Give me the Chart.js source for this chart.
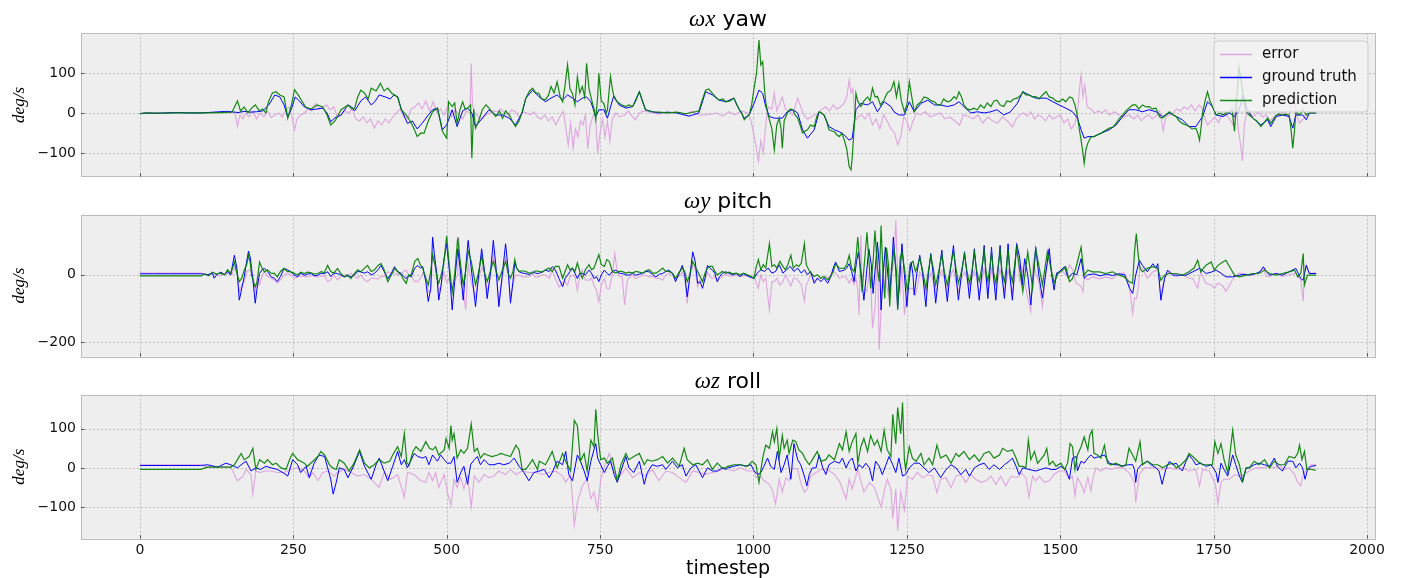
<!DOCTYPE html>
<html>
<head>
<meta charset="utf-8">
<script src="https://cdn.jsdelivr.net/npm/chart.js@4.4.0/dist/chart.umd.min.js"></script>
<style>
  html, body { margin: 0; padding: 0; background: #fff; }
  #wrap { position: relative; width: 1402px; height: 578px; overflow: hidden; }
  canvas { position: absolute; left: 0; }
</style>
</head>
<body>
<div id="wrap">
  <canvas id="c-yaw"   width="1402" height="190" style="top:0px"></canvas>
  <canvas id="c-pitch" width="1402" height="180" style="top:190px"></canvas>
  <canvas id="c-roll"  width="1402" height="208" style="top:370px"></canvas>
</div>
<script>
// x axis (timestep)
const xTicks = [0, 250, 500, 750, 1000, 1250, 1500, 1750, 2000];

// ---- ωx yaw : [timestep, deg/s] ----
const yawError = [[0,0],[20,1],[40,0],[60,1],[80,0],[100,1],[120,0],[140,1],[155,0],[159,-34],[163,-5],[168,-15],[172,0],[178,-10],[184,5],[190,-15],[196,0],[202,-10],[208,5],[214,-12],[220,-5],[226,0],[232,-10],[238,8],[243,15],[248,-10],[252,-42],[256,-15],[262,-5],[268,0],[274,10],[280,5],[286,24],[292,10],[298,15],[304,20],[310,8],[316,15],[322,-10],[328,-5],[334,5],[340,0],[346,10],[352,-15],[358,-20],[364,-10],[370,-25],[376,-15],[382,-38],[388,-20],[394,-30],[400,-15],[406,-25],[412,-10],[418,0],[424,10],[430,-10],[436,-15],[442,10],[448,15],[454,25],[460,10],[466,30],[472,5],[478,28],[484,0],[490,10],[496,-5],[502,20],[508,-10],[514,8],[520,-5],[526,-15],[532,5],[538,0],[540,124],[542,20],[546,0],[552,-10],[558,-15],[564,-5],[570,0],[576,5],[582,3],[588,10],[594,0],[600,-5],[606,8],[612,3],[618,-10],[624,3],[630,0],[636,-5],[642,3],[648,-10],[654,-15],[660,-5],[666,-20],[672,-10],[678,-30],[684,-10],[690,5],[694,-35],[698,-80],[702,-25],[706,-88],[710,-40],[714,-60],[718,-20],[722,-30],[726,-5],[730,-90],[734,-30],[738,-10],[742,8],[746,-100],[750,-50],[754,-15],[758,-60],[762,-20],[766,-70],[770,-15],[776,0],[782,-10],[790,-5],[796,5],[802,-8],[808,-17],[814,0],[820,5],[828,3],[836,0],[844,-3],[852,0],[860,-2],[870,1],[880,0],[890,-3],[900,5],[910,-5],[920,-5],[930,-3],[940,0],[950,-8],[960,3],[970,-5],[980,5],[990,0],[996,-20],[1000,-50],[1004,-80],[1008,-121],[1012,-70],[1016,-100],[1020,-30],[1024,15],[1030,10],[1034,49],[1038,5],[1042,20],[1047,40],[1052,10],[1058,5],[1064,-5],[1072,37],[1076,20],[1082,-5],[1088,-15],[1094,-10],[1100,-5],[1106,0],[1112,10],[1118,15],[1124,5],[1130,20],[1136,10],[1142,15],[1148,25],[1152,40],[1156,82],[1159,50],[1162,60],[1166,-20],[1170,-10],[1176,-5],[1182,-15],[1188,0],[1194,-30],[1200,-15],[1206,-40],[1212,-5],[1218,-20],[1224,-40],[1230,-50],[1235,-80],[1240,-60],[1245,-10],[1250,-20],[1255,-45],[1260,-20],[1266,0],[1272,-5],[1280,3],[1288,-10],[1296,-5],[1304,0],[1312,-15],[1320,-10],[1328,-20],[1336,-30],[1342,-5],[1350,-8],[1358,-15],[1366,-5],[1374,-25],[1382,-10],[1390,-20],[1398,-25],[1406,-10],[1414,-20],[1422,-35],[1428,-15],[1434,-5],[1440,0],[1446,-8],[1452,3],[1458,-15],[1464,-5],[1470,-10],[1476,-20],[1482,-5],[1488,-15],[1494,-10],[1500,-5],[1506,-25],[1512,-15],[1518,-40],[1524,-25],[1528,0],[1532,70],[1534,95],[1537,40],[1540,70],[1544,15],[1550,10],[1556,0],[1562,5],[1568,0],[1574,8],[1580,-5],[1588,3],[1596,-5],[1604,-10],[1612,-5],[1620,-15],[1626,-5],[1632,-20],[1638,-10],[1644,-5],[1650,-15],[1656,-8],[1662,5],[1668,-45],[1672,-10],[1678,-5],[1684,0],[1690,10],[1696,5],[1702,15],[1708,10],[1714,20],[1720,5],[1726,20],[1730,15],[1736,-15],[1740,-30],[1746,-20],[1752,-10],[1758,-25],[1764,0],[1770,-5],[1776,-15],[1782,-30],[1786,40],[1790,-40],[1794,-80],[1797,-120],[1800,-30],[1804,0],[1810,-5],[1816,-8],[1822,3],[1830,-10],[1836,-5],[1842,-20],[1848,-10],[1854,-5],[1860,3],[1866,0],[1872,-10],[1878,30],[1882,20],[1886,-10],[1890,-25],[1896,-15],[1900,-5],[1906,0],[1917,0]];

const yawTruth = [[0,-2],[10,0],[20,-1],[40,0],[60,1],[80,0],[100,0],[120,2],[140,4],[150,3],[160,1],[170,4],[180,2],[190,3],[200,5],[210,20],[220,45],[228,40],[235,20],[241,-10],[247,10],[253,40],[260,30],[268,15],[279,8],[289,10],[298,12],[305,0],[311,-22],[318,-12],[328,-5],[339,20],[345,15],[350,5],[360,30],[368,40],[377,20],[383,28],[390,45],[400,40],[408,35],[414,45],[420,40],[426,10],[436,-26],[444,-20],[452,-40],[463,-20],[470,-5],[477,8],[485,12],[493,-42],[500,-30],[509,8],[517,-34],[526,5],[534,12],[541,0],[547,-34],[558,-13],[569,8],[580,-5],[591,-5],[602,-13],[612,-30],[623,0],[629,37],[640,57],[650,41],[661,28],[670,37],[680,45],[689,33],[697,45],[705,37],[713,28],[721,37],[728,40],[735,28],[743,-9],[748,8],[756,8],[762,-13],[767,15],[772,41],[781,20],[792,12],[803,16],[814,53],[824,8],[835,3],[846,0],[860,2],[875,0],[895,-8],[911,0],[922,53],[933,45],[944,32],[955,28],[968,37],[977,8],[985,-13],[993,-5],[1001,24],[1009,57],[1015,49],[1020,16],[1026,-9],[1034,-13],[1047,-13],[1055,3],[1064,8],[1072,0],[1080,-42],[1088,-63],[1099,-42],[1107,3],[1115,-5],[1123,-34],[1132,-42],[1140,-47],[1148,-55],[1156,-68],[1161,-63],[1167,8],[1175,24],[1186,20],[1194,28],[1202,3],[1213,28],[1224,16],[1229,3],[1237,-5],[1246,-5],[1254,28],[1262,3],[1273,24],[1284,32],[1295,20],[1305,20],[1316,16],[1327,20],[1335,28],[1343,16],[1354,0],[1365,3],[1376,0],[1387,3],[1397,8],[1408,-5],[1419,3],[1430,24],[1439,53],[1449,45],[1460,37],[1477,37],[1488,28],[1498,20],[1509,12],[1520,3],[1528,-13],[1534,-42],[1539,-63],[1545,-59],[1555,-59],[1566,-51],[1580,-42],[1591,-30],[1602,-9],[1612,8],[1623,8],[1634,3],[1645,8],[1656,3],[1667,-9],[1678,0],[1689,-9],[1699,-17],[1710,-34],[1721,-34],[1732,-9],[1740,28],[1748,16],[1754,-5],[1765,-9],[1776,0],[1784,-9],[1792,10],[1798,45],[1804,10],[1814,-13],[1827,-30],[1838,-17],[1843,-34],[1852,-9],[1862,-5],[1873,-9],[1879,-38],[1884,-5],[1895,-5],[1901,-17],[1906,0],[1917,0]];

const yawPred = [[0,-2],[10,0],[30,-1],[60,0],[100,0],[130,1],[150,2],[159,30],[164,5],[170,15],[176,0],[182,12],[188,20],[195,5],[200,10],[205,0],[210,30],[216,50],[222,53],[228,45],[235,40],[241,-13],[247,20],[252,58],[258,45],[264,30],[270,15],[279,10],[289,20],[298,15],[305,-5],[311,-30],[318,-20],[328,8],[339,20],[345,10],[350,12],[355,40],[360,57],[366,50],[372,35],[377,62],[385,55],[392,74],[398,55],[404,62],[410,50],[415,45],[420,40],[426,8],[436,-9],[444,-30],[452,-59],[458,-50],[463,-51],[470,-20],[477,3],[485,12],[493,-46],[500,-63],[503,28],[509,16],[513,25],[517,-26],[522,10],[526,28],[530,10],[534,12],[539,20],[541,-113],[544,10],[547,-38],[552,-20],[558,8],[564,20],[569,12],[575,0],[580,-9],[586,5],[591,-13],[596,5],[602,-5],[607,-20],[612,-34],[618,-20],[623,3],[629,37],[635,55],[640,62],[645,50],[650,49],[655,35],[661,33],[666,45],[670,66],[675,50],[680,78],[685,40],[689,28],[693,70],[697,120],[701,60],[705,49],[709,20],[713,90],[717,50],[721,66],[725,40],[728,124],[732,60],[735,41],[740,10],[743,-17],[746,40],[748,99],[752,30],[756,24],[760,0],[762,8],[765,60],[767,91],[770,60],[772,45],[777,30],[781,24],[786,20],[792,16],[797,20],[803,16],[808,30],[814,53],[819,30],[824,8],[830,5],[835,3],[846,2],[860,0],[875,2],[890,-2],[905,3],[911,5],[916,30],[922,57],[927,60],[933,49],[938,40],[944,32],[950,35],[955,28],[962,30],[968,37],[973,20],[977,8],[981,0],[985,-17],[989,-10],[993,-5],[997,20],[1001,62],[1005,100],[1009,182],[1012,120],[1015,128],[1018,60],[1020,28],[1023,0],[1026,-17],[1030,-40],[1034,-92],[1038,-30],[1042,-13],[1045,-40],[1047,-88],[1050,-20],[1055,-1],[1060,10],[1064,8],[1068,-5],[1072,-13],[1076,-30],[1080,-50],[1084,-45],[1088,-42],[1093,-30],[1099,-34],[1103,-10],[1107,3],[1111,0],[1115,-5],[1119,-20],[1123,-42],[1128,-45],[1132,-47],[1136,-55],[1140,-59],[1144,-50],[1148,-68],[1152,-90],[1156,-134],[1159,-142],[1161,-110],[1164,-40],[1167,49],[1170,30],[1175,16],[1180,30],[1186,40],[1190,30],[1194,62],[1198,40],[1202,41],[1207,20],[1213,33],[1218,50],[1224,57],[1229,78],[1233,40],[1237,74],[1241,30],[1246,3],[1250,20],[1254,78],[1258,40],[1262,3],[1267,20],[1273,28],[1278,40],[1284,37],[1290,30],[1295,28],[1300,20],[1305,20],[1310,35],[1316,28],[1321,30],[1327,41],[1331,35],[1335,53],[1339,40],[1343,20],[1348,10],[1354,8],[1359,12],[1365,8],[1370,20],[1376,12],[1381,25],[1387,16],[1392,30],[1397,32],[1402,20],[1408,16],[1413,30],[1419,28],[1424,35],[1430,37],[1436,45],[1439,53],[1444,45],[1449,45],[1455,40],[1460,41],[1466,35],[1471,45],[1477,53],[1482,40],[1488,37],[1493,30],[1498,28],[1504,35],[1509,28],[1515,40],[1520,37],[1524,20],[1528,-9],[1531,-40],[1534,-68],[1537,-100],[1539,-126],[1542,-90],[1545,-75],[1550,-60],[1555,-59],[1560,-55],[1566,-51],[1572,-45],[1580,-38],[1586,-35],[1591,-26],[1596,-15],[1602,-5],[1607,5],[1612,12],[1618,20],[1623,20],[1628,10],[1634,20],[1640,15],[1645,16],[1650,10],[1656,12],[1662,-10],[1667,-13],[1672,-5],[1678,3],[1684,-5],[1689,-9],[1694,-20],[1699,-26],[1705,-30],[1710,-34],[1715,-40],[1721,-38],[1724,-50],[1727,-68],[1730,-30],[1732,0],[1736,30],[1740,53],[1744,30],[1748,16],[1754,-5],[1760,0],[1765,-5],[1770,0],[1776,0],[1780,10],[1784,-46],[1788,40],[1791,115],[1795,80],[1800,20],[1803,3],[1808,-5],[1814,-13],[1820,-20],[1827,-34],[1832,-25],[1838,-13],[1843,-26],[1848,-15],[1852,-5],[1857,-3],[1862,-5],[1867,-3],[1873,-5],[1876,-40],[1879,-88],[1882,-40],[1884,3],[1890,-5],[1895,8],[1901,-5],[1906,0],[1912,0],[1917,0]];

// ---- ωy pitch ----
const pitchError = [[0,5],[100,5],[110,0],[120,3],[130,-3],[140,5],[150,0],[154,20],[158,10],[162,-50],[166,-30],[170,-20],[174,10],[177,12],[180,15],[185,-10],[188,-50],[191,-20],[195,-30],[199,-5],[203,10],[208,-5],[214,-10],[219,-15],[224,-25],[229,-15],[235,0],[240,5],[246,0],[252,-10],[258,-5],[264,-3],[270,-6],[276,-4],[282,-2],[288,-6],[294,-5],[300,-2],[306,-20],[311,-15],[316,0],[322,-15],[327,-5],[333,0],[338,-3],[344,5],[350,-5],[355,-10],[360,0],[366,-15],[371,-20],[377,-10],[382,-10],[388,-13],[393,-5],[398,-5],[404,9],[410,5],[415,5],[420,0],[426,5],[430,10],[434,14],[438,-2],[442,-5],[448,-20],[453,-20],[457,-10],[461,5],[466,-10],[470,-49],[474,-50],[477,52],[481,30],[484,10],[487,-50],[491,-30],[495,10],[500,-23],[504,-10],[509,-54],[513,-20],[518,0],[520,112],[522,-20],[527,-45],[531,-104],[535,32],[540,-20],[547,-64],[551,-20],[557,22],[561,10],[566,-50],[571,-10],[576,62],[580,15],[585,-79],[590,-20],[596,52],[600,15],[604,-74],[608,-30],[611,-7],[614,0],[618,-1],[624,-7],[629,-6],[635,-5],[640,4],[645,-7],[650,-6],[656,1],[661,-1],[667,-10],[672,14],[677,-10],[683,-36],[689,-25],[693,-20],[697,-31],[701,-5],[705,-1],[709,-5],[713,-46],[717,-5],[721,14],[726,-15],[732,-16],[736,-10],[740,-31],[744,-45],[748,-80],[752,-30],[757,-11],[761,-40],[765,-41],[770,0],[774,63],[778,9],[782,-5],[786,-6],[790,-89],[794,-20],[797,-9],[803,0],[808,-11],[814,-6],[819,-1],[825,-2],[830,-6],[836,-5],[841,-11],[847,-10],[852,-16],[857,0],[862,4],[868,0],[873,-10],[878,-5],[884,8],[888,-10],[892,-85],[896,-10],[901,28],[905,15],[909,-35],[913,-15],[917,-20],[921,-15],[925,8],[929,-5],[933,-11],[937,-5],[941,-20],[945,-10],[949,-6],[955,4],[960,-3],[966,-3],[972,-1],[978,-5],[984,-2],[990,-3],[996,-3],[1001,0],[1004,-20],[1008,-40],[1012,0],[1016,-20],[1020,-10],[1026,-104],[1030,-20],[1034,-20],[1038,-10],[1043,-30],[1048,-20],[1052,0],[1056,-15],[1061,-33],[1065,-10],[1070,-10],[1074,-20],[1078,-30],[1083,-77],[1086,-30],[1090,-15],[1094,5],[1099,-20],[1104,-10],[1110,-10],[1115,-5],[1121,-10],[1126,0],[1130,10],[1134,5],[1140,-10],[1148,-5],[1152,-10],[1156,-25],[1160,-10],[1164,-29],[1167,-10],[1170,-44],[1172,-119],[1175,117],[1177,-25],[1181,-40],[1185,-49],[1189,10],[1191,-15],[1194,-158],[1198,-101],[1202,77],[1205,-222],[1208,-100],[1211,10],[1214,40],[1217,-30],[1220,-60],[1222,20],[1226,10],[1229,35],[1232,161],[1235,5],[1239,-50],[1242,25],[1246,-119],[1251,-44],[1255,-40],[1260,-40],[1264,-60],[1268,-30],[1271,8],[1276,-10],[1281,-54],[1285,-10],[1289,8],[1293,-20],[1297,-54],[1302,-10],[1307,13],[1311,-10],[1316,-49],[1320,-10],[1326,17],[1330,-20],[1334,-50],[1339,-10],[1344,8],[1348,-10],[1352,-45],[1356,-10],[1360,12],[1364,-10],[1368,-55],[1372,-20],[1376,17],[1379,-10],[1382,-50],[1385,-20],[1388,17],[1391,-10],[1395,-50],[1398,-15],[1402,17],[1405,-10],[1409,-50],[1412,-20],[1415,17],[1418,-10],[1422,-55],[1425,-20],[1429,97],[1434,-18],[1438,20],[1442,-20],[1447,-68],[1452,-109],[1456,40],[1460,5],[1465,-20],[1471,-94],[1476,0],[1482,77],[1486,10],[1490,-20],[1494,0],[1498,5],[1504,10],[1509,0],[1515,30],[1520,16],[1526,-24],[1534,-34],[1537,-50],[1539,-9],[1545,-14],[1553,-6],[1564,-12],[1574,-6],[1585,-11],[1596,4],[1604,6],[1612,-20],[1618,-114],[1621,-69],[1624,-70],[1627,-40],[1630,24],[1634,19],[1642,-10],[1651,9],[1659,14],[1664,-59],[1670,-10],[1678,10],[1689,-5],[1699,0],[1710,-10],[1716,-11],[1724,-40],[1729,10],[1737,-24],[1746,-30],[1751,-40],[1757,-24],[1765,-33],[1770,-49],[1776,-30],[1784,-5],[1792,5],[1803,0],[1814,0],[1824,6],[1831,20],[1836,-4],[1841,-5],[1852,5],[1862,-5],[1873,0],[1884,5],[1892,-15],[1896,-79],[1898,10],[1901,29],[1906,5],[1917,5]];

const pitchTruth = [[0,3],[20,3],[50,3],[80,3],[100,3],[110,0],[118,5],[121,-10],[126,2],[132,8],[138,0],[143,10],[148,0],[154,58],[158,20],[162,-75],[166,-40],[170,-6],[174,40],[177,70],[180,50],[182,19],[185,-30],[188,-84],[191,-40],[195,4],[199,15],[203,19],[208,10],[214,-6],[219,-10],[224,-20],[229,-5],[235,19],[240,15],[246,9],[251,0],[257,-6],[262,5],[268,-1],[273,2],[279,4],[284,-3],[290,-1],[296,5],[300,3],[306,9],[311,-5],[316,5],[322,4],[327,0],[333,-6],[338,-3],[344,-6],[350,0],[355,10],[360,9],[366,5],[371,9],[377,0],[382,4],[388,15],[393,28],[398,10],[404,-11],[410,5],[415,24],[420,10],[426,4],[430,-5],[434,-11],[438,-2],[442,-6],[448,20],[453,28],[457,20],[461,24],[466,-20],[470,-79],[474,-40],[477,112],[480,60],[484,0],[487,-75],[491,-30],[495,40],[500,92],[504,20],[509,-104],[513,-20],[518,77],[522,20],[527,-75],[531,20],[535,102],[540,20],[547,-94],[551,-20],[557,77],[561,20],[566,-70],[571,0],[576,102],[580,30],[585,-94],[590,-10],[596,92],[600,20],[604,-84],[608,-20],[611,38],[614,20],[618,9],[624,5],[629,4],[635,0],[640,9],[645,5],[650,4],[656,9],[661,14],[667,10],[672,24],[677,15],[683,-11],[689,-35],[693,-10],[697,-1],[701,10],[705,19],[709,5],[713,-11],[717,5],[721,4],[726,0],[732,14],[736,5],[740,-11],[744,-5],[748,-20],[752,0],[757,14],[761,5],[765,-1],[770,10],[776,14],[781,5],[786,4],[792,0],[797,-1],[803,5],[808,-1],[814,2],[819,4],[825,10],[830,9],[836,0],[841,-6],[847,2],[852,4],[857,10],[862,14],[868,5],[873,-20],[878,0],[884,28],[888,0],[892,-65],[896,-10],[901,68],[905,40],[909,-25],[913,-20],[917,-40],[921,-10],[925,28],[929,20],[933,14],[937,5],[941,-20],[945,-5],[949,4],[955,9],[960,5],[966,0],[972,4],[978,-5],[984,3],[990,-3],[996,-8],[1001,-10],[1006,5],[1012,15],[1018,10],[1024,20],[1030,5],[1036,10],[1042,30],[1048,5],[1054,15],[1060,25],[1066,10],[1072,20],[1078,5],[1083,15],[1088,0],[1093,10],[1099,-25],[1104,-10],[1110,-20],[1115,-10],[1121,-25],[1126,-5],[1130,20],[1134,38],[1140,10],[1148,14],[1152,20],[1156,33],[1160,10],[1164,-20],[1168,40],[1171,68],[1175,10],[1180,-75],[1184,0],[1188,77],[1192,30],[1195,-55],[1199,30],[1202,97],[1206,10],[1208,-104],[1212,20],[1215,82],[1219,0],[1222,-55],[1226,40],[1228,112],[1232,10],[1235,-99],[1239,0],[1242,92],[1246,0],[1250,-94],[1254,-10],[1257,38],[1260,0],[1262,-60],[1266,0],[1271,58],[1276,0],[1281,-94],[1285,0],[1289,63],[1293,0],[1297,-84],[1302,0],[1307,73],[1311,0],[1316,-79],[1320,0],[1326,87],[1330,0],[1334,-75],[1339,0],[1344,68],[1348,0],[1352,-70],[1356,0],[1360,77],[1364,0],[1368,-75],[1372,0],[1376,87],[1379,0],[1382,-70],[1385,0],[1388,82],[1391,0],[1395,-75],[1398,0],[1402,87],[1405,0],[1409,-70],[1412,0],[1415,92],[1418,0],[1422,-75],[1425,0],[1429,92],[1434,50],[1438,-30],[1442,48],[1447,0],[1452,-89],[1456,0],[1460,82],[1465,0],[1471,-69],[1476,0],[1482,77],[1486,0],[1490,-45],[1494,5],[1498,9],[1507,24],[1513,-10],[1520,5],[1527,0],[1534,48],[1539,-10],[1545,0],[1555,3],[1565,-3],[1575,2],[1585,-2],[1595,3],[1605,0],[1613,-40],[1618,-55],[1623,-1],[1629,43],[1634,28],[1642,9],[1651,33],[1656,20],[1659,33],[1664,-75],[1670,-11],[1675,14],[1683,-1],[1694,-1],[1705,-1],[1716,9],[1727,19],[1738,4],[1746,8],[1754,14],[1762,5],[1770,-6],[1781,-6],[1792,-1],[1800,2],[1808,-1],[1819,4],[1826,10],[1831,24],[1836,10],[1841,-1],[1852,4],[1862,-1],[1873,9],[1884,19],[1892,-11],[1896,-16],[1901,28],[1906,4],[1912,4],[1917,4]];

const pitchPred = [[0,-3],[50,-3],[100,-3],[106,3],[112,-3],[118,8],[125,2],[131,5],[138,0],[143,15],[148,5],[151,20],[154,38],[158,5],[162,-20],[166,-10],[170,14],[174,30],[177,58],[180,35],[182,-1],[185,-20],[188,-35],[191,-20],[195,38],[199,20],[203,9],[208,15],[214,4],[219,5],[224,-6],[229,10],[235,19],[240,10],[246,9],[251,5],[257,0],[262,8],[268,4],[273,8],[279,6],[284,2],[290,4],[296,10],[300,5],[306,28],[311,10],[316,5],[322,19],[327,5],[333,-6],[338,0],[344,-11],[350,5],[355,15],[360,9],[366,20],[371,28],[377,10],[382,14],[388,28],[393,33],[398,15],[404,-20],[410,0],[415,19],[420,10],[426,-1],[430,-15],[434,-25],[438,0],[442,-1],[448,40],[453,48],[457,30],[461,19],[466,-10],[470,-30],[474,10],[477,60],[481,30],[484,-10],[487,-25],[491,0],[495,30],[500,115],[504,30],[509,-50],[513,0],[518,110],[522,40],[527,-30],[531,10],[535,70],[540,40],[547,-30],[551,0],[557,55],[561,10],[566,-20],[571,10],[576,40],[580,15],[585,-15],[590,10],[596,40],[600,5],[604,-10],[608,10],[611,45],[614,20],[618,10],[624,12],[629,10],[635,5],[640,5],[645,12],[650,10],[656,8],[661,15],[667,20],[672,10],[677,25],[683,25],[689,-10],[693,10],[697,30],[701,15],[705,20],[709,10],[713,35],[717,10],[721,-10],[726,15],[732,30],[736,15],[740,20],[744,40],[748,60],[752,30],[757,25],[761,45],[765,40],[770,10],[776,5],[781,10],[786,10],[792,5],[797,8],[803,5],[808,10],[814,8],[819,5],[825,12],[830,15],[836,5],[841,5],[847,12],[852,20],[857,10],[862,10],[868,5],[873,-10],[878,5],[884,20],[888,10],[892,-20],[896,0],[901,40],[905,25],[909,10],[913,-5],[917,-20],[921,5],[925,20],[929,25],[933,25],[937,10],[941,0],[945,5],[949,10],[955,5],[960,8],[966,3],[972,5],[978,0],[984,5],[990,0],[996,-5],[1001,-10],[1004,20],[1008,45],[1012,15],[1016,30],[1020,20],[1026,92],[1030,25],[1034,30],[1038,20],[1043,40],[1048,25],[1052,15],[1056,30],[1061,58],[1065,20],[1070,30],[1074,25],[1078,35],[1083,92],[1086,30],[1090,15],[1094,5],[1099,-5],[1104,0],[1110,-10],[1115,-5],[1121,-15],[1126,-5],[1130,10],[1134,33],[1140,20],[1148,19],[1152,30],[1156,58],[1160,20],[1164,9],[1167,50],[1170,112],[1174,20],[1177,-50],[1181,40],[1185,126],[1189,20],[1191,-40],[1195,40],[1198,131],[1202,20],[1205,-20],[1208,146],[1211,10],[1214,-70],[1217,80],[1220,30],[1222,-94],[1226,30],[1229,77],[1233,10],[1235,-104],[1239,50],[1242,67],[1246,20],[1251,-50],[1255,30],[1260,40],[1264,10],[1268,30],[1271,50],[1276,10],[1281,-40],[1285,10],[1289,55],[1293,20],[1297,-30],[1302,10],[1307,60],[1311,10],[1316,-30],[1320,10],[1326,70],[1330,20],[1334,-25],[1339,10],[1344,60],[1348,10],[1352,-25],[1356,10],[1360,65],[1364,10],[1368,-20],[1372,20],[1376,70],[1379,10],[1382,-20],[1385,20],[1388,65],[1391,10],[1395,-25],[1398,15],[1402,70],[1405,10],[1409,-20],[1412,20],[1415,75],[1418,10],[1422,-20],[1425,20],[1429,80],[1439,-50],[1447,68],[1455,-40],[1460,77],[1471,-30],[1479,68],[1490,-25],[1496,4],[1504,14],[1509,24],[1515,-20],[1520,-11],[1526,24],[1534,82],[1539,-1],[1545,14],[1553,9],[1564,9],[1574,4],[1585,9],[1596,-1],[1604,-6],[1612,-20],[1618,-25],[1621,68],[1624,122],[1627,60],[1630,19],[1634,9],[1642,19],[1651,24],[1659,19],[1664,-16],[1670,-1],[1678,4],[1689,4],[1699,-1],[1710,9],[1718,20],[1724,43],[1729,9],[1737,28],[1746,38],[1751,14],[1757,28],[1765,38],[1770,43],[1776,24],[1784,-1],[1792,-6],[1803,-1],[1814,4],[1824,4],[1833,14],[1841,4],[1852,-1],[1862,4],[1873,9],[1882,14],[1887,-6],[1892,4],[1896,63],[1898,-30],[1903,-1],[1910,-1],[1917,-1]];

// ---- ωz roll ----
const rollError = [[0,8],[50,8],[99,8],[110,2],[140,3],[148,2],[154,-17],[159,-33],[168,-21],[173,-4],[181,-17],[184,-67],[189,-8],[197,-12],[203,-8],[214,-8],[224,-12],[235,-12],[246,-4],[257,0],[268,-8],[276,-25],[282,-12],[290,-33],[298,-12],[306,-8],[317,-21],[322,-12],[333,-4],[344,-12],[355,-21],[366,-17],[377,-29],[390,-50],[398,-12],[409,-29],[420,-17],[431,-75],[436,-12],[447,-17],[458,-33],[466,-37],[471,-12],[477,-33],[482,-12],[487,-50],[496,-17],[501,-62],[507,-96],[512,-29],[517,-50],[523,-25],[528,-54],[534,-21],[540,-100],[545,-21],[553,-37],[561,-17],[569,-25],[577,-21],[585,-8],[596,-17],[604,-4],[613,-17],[623,-8],[634,-12],[645,-12],[656,-17],[667,-12],[678,-8],[689,-21],[694,-37],[702,-17],[708,-146],[713,-88],[721,-46],[729,-29],[735,-79],[740,-62],[746,-108],[751,-29],[757,4],[765,37],[773,-12],[781,-25],[792,0],[803,-25],[814,-12],[824,-21],[835,-4],[846,-33],[857,-8],[868,-12],[879,-25],[890,-37],[901,-8],[911,-12],[922,-17],[933,-12],[944,-8],[955,0],[958,-4],[968,-8],[979,0],[990,-8],[1001,-8],[1004,-25],[1012,-21],[1017,-33],[1026,-42],[1031,-58],[1036,-92],[1042,-29],[1047,-62],[1053,-25],[1058,-33],[1064,0],[1072,-4],[1077,-37],[1083,-62],[1088,-54],[1093,-21],[1102,-12],[1110,-4],[1121,-4],[1132,-17],[1140,-33],[1151,-79],[1156,-29],[1161,-54],[1170,-4],[1175,-33],[1180,-62],[1189,-37],[1197,-50],[1208,-100],[1213,-62],[1218,-29],[1224,-54],[1227,-129],[1232,-54],[1235,-161],[1240,-62],[1246,-108],[1251,-21],[1259,-29],[1267,-12],[1276,-25],[1284,-17],[1292,-21],[1299,-63],[1305,-29],[1314,-25],[1322,-50],[1330,-21],[1338,-17],[1346,-37],[1354,-17],[1362,-29],[1371,-37],[1379,-33],[1387,-21],[1395,-42],[1403,-21],[1411,-46],[1420,-21],[1428,-25],[1433,-21],[1436,-12],[1444,-25],[1449,-75],[1455,-21],[1460,-33],[1466,-21],[1474,-37],[1482,-33],[1490,-17],[1498,-8],[1507,-8],[1515,-29],[1520,-21],[1524,-71],[1528,-25],[1534,-42],[1539,-63],[1545,-25],[1550,-58],[1553,-29],[1558,0],[1566,-8],[1574,0],[1583,-4],[1591,0],[1602,0],[1612,-12],[1621,-37],[1623,-88],[1629,-17],[1637,0],[1645,0],[1656,0],[1667,-4],[1678,0],[1689,-4],[1699,0],[1710,-8],[1721,-4],[1727,-46],[1732,-4],[1743,-8],[1753,-42],[1757,-92],[1762,-37],[1767,-29],[1776,-29],[1784,-17],[1792,-21],[1800,-17],[1808,-8],[1819,0],[1830,0],[1841,4],[1849,0],[1857,8],[1865,-4],[1873,0],[1882,-17],[1887,-37],[1892,-46],[1895,-21],[1901,-4],[1909,8],[1917,8]];

const rollTruth = [[0,6],[50,6],[99,6],[110,8],[127,2],[140,12],[148,8],[154,4],[159,0],[165,8],[173,17],[181,-8],[189,0],[197,-4],[205,4],[214,0],[224,-4],[233,-12],[241,-21],[249,21],[257,8],[262,-12],[271,4],[276,-25],[284,12],[292,33],[301,29],[306,0],[311,-29],[315,-67],[320,-37],[325,0],[333,-4],[339,-25],[347,0],[358,42],[366,4],[377,-29],[385,8],[390,25],[398,-8],[404,-33],[412,4],[420,42],[426,8],[431,21],[436,0],[447,37],[453,29],[461,25],[466,29],[471,8],[477,33],[485,17],[490,33],[496,21],[501,12],[507,12],[512,29],[517,-37],[523,-12],[528,4],[534,-42],[539,8],[545,21],[550,29],[555,8],[561,21],[569,8],[577,8],[585,12],[593,8],[602,12],[610,25],[618,4],[626,-12],[634,-33],[642,-12],[651,-8],[659,-4],[667,-25],[672,-12],[680,17],[689,8],[694,42],[699,-17],[705,-33],[713,33],[718,17],[724,-8],[729,-33],[735,17],[740,46],[743,62],[746,25],[751,8],[757,-12],[762,4],[767,17],[773,-17],[778,-37],[784,-8],[792,29],[797,0],[805,-12],[814,17],[822,-42],[827,-12],[835,8],[843,4],[852,8],[857,-4],[868,17],[876,0],[884,8],[890,-21],[898,0],[906,8],[917,-25],[925,0],[933,-8],[941,-8],[949,0],[955,-4],[958,0],[968,4],[979,8],[987,4],[996,8],[1001,-8],[1007,-17],[1012,-12],[1017,4],[1023,25],[1028,4],[1034,-4],[1039,42],[1045,-12],[1050,8],[1055,33],[1061,-29],[1066,62],[1072,21],[1077,8],[1083,-21],[1087,-46],[1091,-17],[1096,0],[1102,0],[1107,33],[1113,0],[1118,-17],[1123,8],[1132,17],[1140,12],[1145,25],[1151,0],[1156,17],[1161,25],[1167,-8],[1172,8],[1178,0],[1183,12],[1189,0],[1194,-33],[1199,17],[1205,4],[1210,-17],[1216,8],[1221,29],[1227,8],[1232,-12],[1237,25],[1243,-21],[1248,-17],[1254,0],[1262,12],[1270,12],[1278,0],[1286,-12],[1295,0],[1305,-25],[1314,-4],[1322,8],[1330,0],[1338,-17],[1346,-4],[1352,-21],[1360,0],[1368,8],[1376,12],[1384,-4],[1392,8],[1401,-4],[1409,8],[1417,17],[1422,25],[1428,4],[1433,-17],[1439,0],[1449,-4],[1460,-8],[1468,-4],[1477,0],[1485,-4],[1493,-4],[1501,4],[1509,-4],[1515,-29],[1520,25],[1526,29],[1528,-8],[1534,17],[1539,12],[1545,25],[1550,33],[1555,25],[1564,29],[1572,33],[1580,12],[1588,8],[1596,8],[1602,4],[1610,8],[1618,8],[1621,-4],[1623,-37],[1626,-4],[1632,8],[1637,12],[1642,17],[1648,8],[1656,0],[1661,-8],[1666,-42],[1672,-4],[1678,17],[1683,8],[1689,12],[1694,0],[1699,-8],[1705,17],[1710,33],[1716,21],[1721,8],[1729,12],[1738,4],[1746,8],[1754,-12],[1757,-37],[1762,12],[1767,-4],[1773,-21],[1781,33],[1786,8],[1792,-21],[1797,-37],[1803,0],[1808,0],[1816,8],[1824,12],[1833,8],[1841,4],[1849,25],[1854,4],[1862,-8],[1871,17],[1879,17],[1884,0],[1890,12],[1895,0],[1899,-29],[1903,-4],[1909,4],[1917,6]];

const rollPred = [[0,-4],[50,-4],[99,-4],[110,2],[140,2],[148,2],[154,8],[159,21],[165,37],[170,21],[178,29],[184,50],[189,-4],[195,21],[203,12],[208,21],[216,8],[222,12],[230,0],[238,-4],[245,25],[249,37],[257,21],[262,17],[268,12],[273,4],[282,17],[290,29],[295,42],[301,33],[309,8],[314,0],[320,-4],[325,21],[333,12],[341,-8],[349,12],[358,46],[366,12],[374,0],[382,8],[390,21],[398,12],[407,17],[412,33],[420,54],[426,29],[431,88],[435,12],[439,8],[445,42],[450,54],[458,42],[466,67],[472,50],[477,46],[482,54],[487,33],[496,46],[499,75],[504,50],[507,108],[509,71],[512,88],[517,25],[523,46],[528,37],[534,50],[540,112],[545,42],[550,50],[555,25],[561,37],[566,33],[574,29],[583,33],[588,37],[596,33],[604,29],[613,58],[618,46],[623,-4],[629,-4],[640,21],[648,-4],[651,17],[661,8],[672,42],[680,0],[689,37],[694,17],[702,-8],[708,121],[713,108],[718,17],[724,37],[729,-8],[735,71],[740,54],[743,150],[746,87],[751,21],[757,25],[762,12],[770,25],[778,-33],[784,8],[792,37],[797,21],[805,29],[814,37],[822,8],[827,21],[835,17],[843,21],[852,29],[860,12],[868,25],[879,4],[887,50],[892,21],[901,8],[909,12],[917,8],[925,21],[933,-4],[941,12],[949,0],[955,0],[958,4],[968,8],[979,8],[990,4],[998,17],[1004,8],[1009,-37],[1015,25],[1020,58],[1026,50],[1031,92],[1034,67],[1038,100],[1042,25],[1047,83],[1050,50],[1055,71],[1058,37],[1064,71],[1069,67],[1074,46],[1080,37],[1085,21],[1091,8],[1096,21],[1104,42],[1110,17],[1118,21],[1123,33],[1132,21],[1140,62],[1145,46],[1151,92],[1156,42],[1161,67],[1167,88],[1170,12],[1175,54],[1180,75],[1186,42],[1191,83],[1197,58],[1202,71],[1208,42],[1213,96],[1218,46],[1224,29],[1227,137],[1232,62],[1235,154],[1240,87],[1243,167],[1246,21],[1248,-4],[1254,54],[1259,25],[1265,17],[1273,37],[1278,8],[1286,25],[1292,8],[1299,58],[1305,25],[1314,33],[1322,12],[1330,37],[1335,29],[1343,42],[1352,21],[1360,33],[1368,17],[1376,37],[1384,42],[1392,25],[1401,33],[1406,50],[1414,42],[1422,46],[1428,25],[1433,4],[1439,4],[1444,0],[1448,71],[1452,21],[1458,42],[1463,12],[1468,21],[1474,33],[1478,50],[1482,8],[1488,17],[1493,4],[1501,12],[1507,-4],[1512,12],[1516,62],[1520,54],[1524,-4],[1528,33],[1534,54],[1539,79],[1545,46],[1548,83],[1552,96],[1555,37],[1561,33],[1566,25],[1572,58],[1577,12],[1583,8],[1591,12],[1599,4],[1607,8],[1612,50],[1618,33],[1623,17],[1630,67],[1634,8],[1642,17],[1651,8],[1659,8],[1667,0],[1675,8],[1683,12],[1689,0],[1697,8],[1705,21],[1710,37],[1716,29],[1724,17],[1732,8],[1740,8],[1748,8],[1752,67],[1757,37],[1762,62],[1767,21],[1773,-12],[1781,96],[1786,33],[1792,8],[1797,-33],[1803,0],[1808,0],[1816,17],[1824,8],[1833,21],[1841,0],[1849,17],[1857,8],[1865,8],[1873,29],[1882,25],[1887,37],[1890,58],[1894,21],[1898,42],[1902,-4],[1909,-4],[1917,-6]];

const legendLabels = ['error', 'ground truth', 'prediction'];
const seriesColors = ['rgba(221,160,221,0.95)', '#0000ff', 'rgba(0,128,0,0.92)'];
const seriesWidths = [1.1, 1, 1.2];

const FONT = '"DejaVu Sans", sans-serif';
const MATH = '"Liberation Serif", "DejaVu Serif", serif';

const axesPlugin = {
  id: 'axesDeco',
  beforeDraw(chart, args, o) {
    const { ctx, chartArea: a } = chart;
    ctx.save();
    ctx.fillStyle = '#eeeeee';
    ctx.fillRect(a.left, a.top, a.right - a.left, a.bottom - a.top);
    ctx.restore();
  },
  beforeDatasetsDraw(chart, args, o) {
    const { ctx, chartArea: a, scales: { x, y } } = chart;
    ctx.save();
    ctx.strokeStyle = '#b2b2b2';
    ctx.lineWidth = 0.8;
    ctx.setLineDash([2, 2]);
    xTicks.forEach(v => {
      const px = Math.round(x.getPixelForValue(v)) + 0.5;
      if (px < a.left || px > a.right) return;
      ctx.beginPath(); ctx.moveTo(px, a.top); ctx.lineTo(px, a.bottom); ctx.stroke();
    });
    o.yTicks.forEach(v => {
      const py = Math.round(y.getPixelForValue(v)) + 0.5;
      ctx.beginPath(); ctx.moveTo(a.left, py); ctx.lineTo(a.right, py); ctx.stroke();
    });
    ctx.restore();
  },
  afterDatasetsDraw(chart, args, o) {
    const { ctx, chartArea: a, scales: { x, y } } = chart;
    ctx.save();
    // frame
    ctx.strokeStyle = '#bcbcbc';
    ctx.lineWidth = 1;
    ctx.strokeRect(Math.round(a.left) + 0.5, Math.round(a.top) + 0.5,
                   Math.round(a.right - a.left), Math.round(a.bottom - a.top));
    // inward ticks
    ctx.strokeStyle = '#333';
    ctx.lineWidth = 0.8;
    xTicks.forEach(v => {
      const px = Math.round(x.getPixelForValue(v)) + 0.5;
      ctx.beginPath(); ctx.moveTo(px, a.bottom); ctx.lineTo(px, a.bottom - 3.5); ctx.stroke();
    });
    o.yTicks.forEach(v => {
      const py = Math.round(y.getPixelForValue(v)) + 0.5;
      ctx.beginPath(); ctx.moveTo(a.left, py); ctx.lineTo(a.left + 3.5, py); ctx.stroke();
    });

    // title: math symbol + name
    ctx.fillStyle = '#000';
    ctx.textBaseline = 'alphabetic';
    ctx.font = 'italic 23px ' + MATH;
    const w1 = ctx.measureText(o.symbol).width;
    ctx.font = '22px ' + FONT;
    const w2 = ctx.measureText(' ' + o.name).width;
    const sx = (a.left + a.right) / 2 - (w1 + w2) / 2;
    const by = a.top - 7;
    ctx.font = 'italic 23px ' + MATH;
    ctx.textAlign = 'left';
    ctx.fillText(o.symbol, sx, by);
    ctx.font = '22px ' + FONT;
    ctx.fillText(' ' + o.name, sx + w1, by);

    // y label
    ctx.save();
    ctx.translate(20, (a.top + a.bottom) / 2);
    ctx.rotate(-Math.PI / 2);
    ctx.font = 'italic 17px ' + MATH;
    ctx.textAlign = 'center';
    ctx.textBaseline = 'middle';
    ctx.fillText('deg/s', 0, 0);
    ctx.restore();

    // x label
    if (o.xlabel) {
      ctx.font = '19px ' + FONT;
      ctx.textAlign = 'center';
      ctx.textBaseline = 'alphabetic';
      ctx.fillText(o.xlabel, (a.left + a.right) / 2, a.bottom + 35);
    }

    // legend box
    if (o.legend) {
      const lx = 1214, ly = 41, lw = 154, lh = 71, r = 4;
      ctx.beginPath();
      ctx.moveTo(lx + r, ly);
      ctx.arcTo(lx + lw, ly, lx + lw, ly + lh, r);
      ctx.arcTo(lx + lw, ly + lh, lx, ly + lh, r);
      ctx.arcTo(lx, ly + lh, lx, ly, r);
      ctx.arcTo(lx, ly, lx + lw, ly, r);
      ctx.closePath();
      ctx.fillStyle = 'rgba(242,242,242,0.8)';
      ctx.fill();
      ctx.strokeStyle = '#cccccc';
      ctx.lineWidth = 1;
      ctx.stroke();
      ctx.font = '15px ' + FONT;
      ctx.textAlign = 'left';
      ctx.textBaseline = 'middle';
      legendLabels.forEach((lab, i) => {
        const yy = ly + 13 + i * 23;
        ctx.strokeStyle = seriesColors[i];
        ctx.lineWidth = 1.5;
        ctx.beginPath(); ctx.moveTo(lx + 6, yy + 0.5); ctx.lineTo(lx + 38, yy + 0.5); ctx.stroke();
        ctx.fillStyle = '#111';
        ctx.fillText(lab, lx + 48, yy);
      });
    }
    ctx.restore();
  }
};

const toXY = pts => pts.map(p => ({ x: p[0], y: p[1] }));
const fmt = v => (v < 0 ? '\u2212' + Math.abs(v) : String(v));

function makeChart(id, err, gt, pred, deco, yMin, yMax, xAxisH, padTop) {
  return new Chart(document.getElementById(id), {
    type: 'line',
    data: {
      datasets: [
        { data: toXY(err),  borderColor: seriesColors[0], borderWidth: seriesWidths[0], order: 3 },
        { data: toXY(gt),   borderColor: seriesColors[1], borderWidth: seriesWidths[1], order: 2 },
        { data: toXY(pred), borderColor: seriesColors[2], borderWidth: seriesWidths[2], order: 1 },
      ],
    },
    options: {
      responsive: false,
      animation: false,
      devicePixelRatio: 1,
      layout: { padding: { top: padTop, right: 27, bottom: 0, left: 0 } },
      elements: { point: { radius: 0 }, line: { tension: 0 } },
      plugins: { legend: { display: false }, tooltip: { enabled: false }, axesDeco: deco },
      scales: {
        x: {
          type: 'linear', min: -96, max: 2013,
          grid: { display: false, drawTicks: false }, border: { display: false },
          afterBuildTicks: s => { s.ticks = xTicks.map(v => ({ value: v })); },
          afterFit: s => { s.height = xAxisH; },
          ticks: { display: !!deco.xlabel, padding: 3, color: '#111', font: { family: FONT, size: 14 }, maxRotation: 0, callback: v => fmt(v) },
        },
        y: {
          min: yMin, max: yMax,
          grid: { display: false, drawTicks: false }, border: { display: false },
          afterBuildTicks: s => { s.ticks = deco.yTicks.map(v => ({ value: v })); },
          afterFit: s => { s.width = 81; },
          ticks: { padding: 5, color: '#111', font: { family: FONT, size: 14 }, callback: v => fmt(v) },
        },
      },
    },
    plugins: [axesPlugin],
  });
}

makeChart('c-yaw', yawError, yawTruth, yawPred,
  { symbol: '\u03c9x', name: 'yaw', yTicks: [-100, 0, 100], legend: true },
  -159, 199, 13.3, 33.3);
makeChart('c-pitch', pitchError, pitchTruth, pitchPred,
  { symbol: '\u03c9y', name: 'pitch', yTicks: [-200, 0] },
  -242, 178, 12.3, 24.7);
makeChart('c-roll', rollError, rollTruth, rollPred,
  { symbol: '\u03c9z', name: 'roll', yTicks: [-100, 0, 100], xlabel: 'timestep' },
  -181, 187, 39.3, 24.7);
</script>
</body>
</html>
